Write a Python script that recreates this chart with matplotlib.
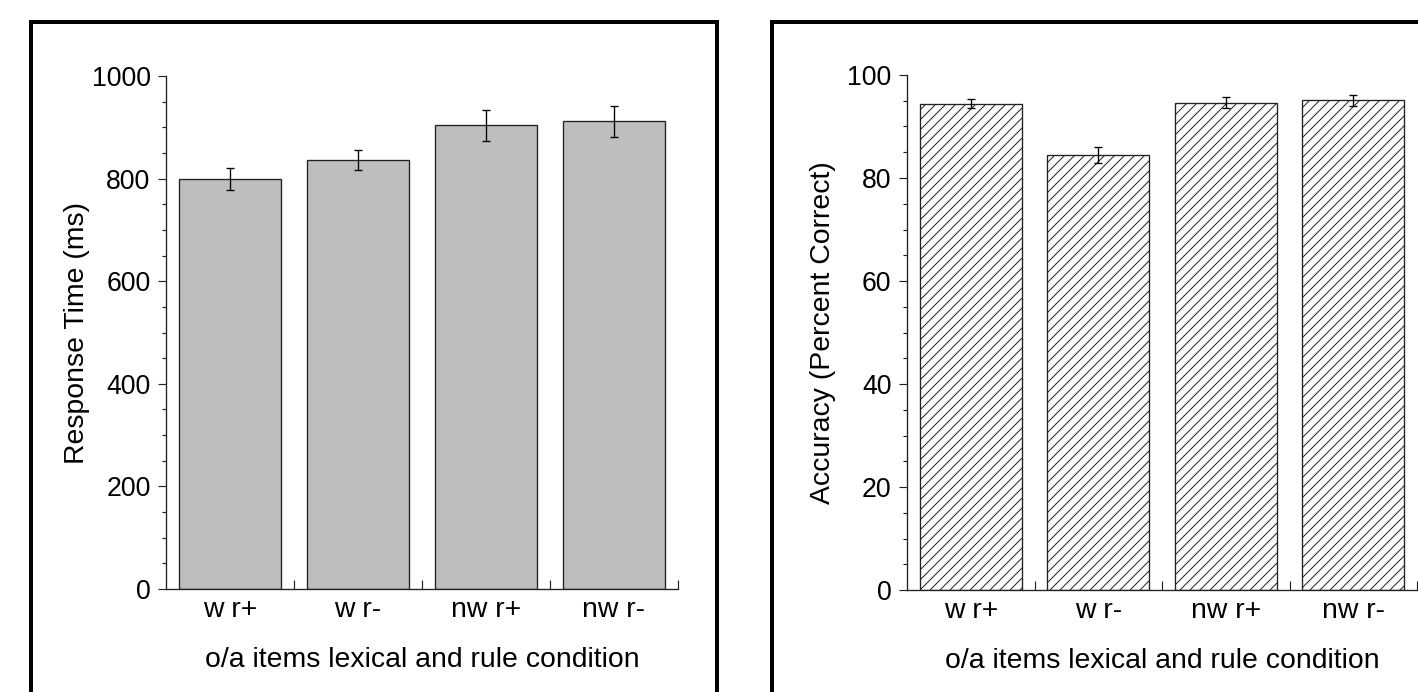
import matplotlib.pyplot as plt
import matplotlib.patches as patches
from matplotlib.ticker import MultipleLocator, FixedLocator
import numpy as np

plt.rcParams['font.family'] = ['Liberation Sans', 'DejaVu Sans']
plt.rcParams['hatch.linewidth'] = 0.6

# data
categories = ['w r+', 'w r-', 'nw r+', 'nw r-']
rt = [799, 836, 904, 912]
rt_err = [21, 20, 30, 30]
acc = [94.4, 84.5, 94.6, 95.1]
acc_err = [0.9, 1.5, 1.1, 1.1]

W, H = 1418, 692
dpi = 120
fig = plt.figure(figsize=(W / dpi, H / dpi), dpi=dpi)

ax1 = fig.add_axes([166 / W, (H - 589) / H, 512 / W, 513 / H])
ax2 = fig.add_axes([907 / W, (H - 590) / H, 510 / W, 515 / H])

x = np.arange(len(categories))

ax1.bar(x, rt, width=0.8, color='#bebebe', edgecolor='#222222', linewidth=0.8, zorder=2)
ax1.errorbar(x, rt, yerr=rt_err, fmt='none', ecolor='black', elinewidth=0.8,
             capsize=2.2, capthick=0.8, zorder=3)

ax2.bar(x, acc, width=0.8, color='white', edgecolor='#222222', linewidth=0.8,
        hatch='////', zorder=2)
ax2.errorbar(x, acc, yerr=acc_err, fmt='none', ecolor='black', elinewidth=0.8,
             capsize=2.2, capthick=0.8, zorder=3)


def style(ax, ymax, major, minor, ylabel, lpad):
    ax.set_xlim(-0.5, len(categories) - 0.5)
    ax.set_ylim(0, ymax)
    for s in ['top', 'right']:
        ax.spines[s].set_visible(False)
    for s in ['left', 'bottom']:
        ax.spines[s].set_linewidth(0.8)
        ax.spines[s].set_color('#222222')
    ax.yaxis.set_major_locator(MultipleLocator(major))
    ax.yaxis.set_minor_locator(MultipleLocator(minor))
    ax.tick_params(axis='y', which='major', length=4.8, width=0.7, pad=4.5,
                   labelsize=16, color='#222222')
    ax.tick_params(axis='y', which='minor', length=2.6, width=0.7, color='#222222')
    ax.set_xticks(x)
    ax.set_xticklabels(categories)
    ax.xaxis.set_minor_locator(FixedLocator(x + 0.5))
    ax.tick_params(axis='x', which='major', length=0, pad=5, labelsize=17)
    ax.tick_params(axis='x', which='minor', direction='in', length=5.4, width=0.7,
                   color='#222222')
    ax.set_ylabel(ylabel, fontsize=17, labelpad=lpad)
    ax.set_xlabel('o/a items lexical and rule condition', fontsize=17, labelpad=14)


style(ax1, 1000, 200, 50, 'Response Time (ms)', 1)
style(ax2, 100, 20, 5, 'Accuracy (Percent Correct)', 6.5)

# panel frames
lw = 2.4
fig.add_artist(patches.Rectangle((31 / W, -0.2), (717 - 31) / W, 1.2 - 21.5 / H,
                                 transform=fig.transFigure, fill=False,
                                 edgecolor='black', linewidth=lw))
fig.add_artist(patches.Rectangle((772 / W, -0.2), (1440 - 772) / W, 1.2 - 21.5 / H,
                                 transform=fig.transFigure, fill=False,
                                 edgecolor='black', linewidth=lw))

fig.savefig('out.png', dpi=dpi)
